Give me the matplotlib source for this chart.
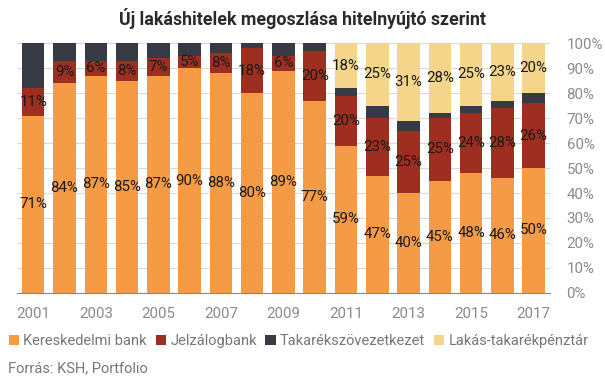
import matplotlib.pyplot as plt
import numpy as np

plt.rcParams['font.family'] = ['Roboto', 'DejaVu Sans']

years = list(range(2001, 2018))
kereskedelmi = [71, 84, 87, 85, 87, 90, 88, 80, 89, 77, 59, 47, 40, 45, 48, 46, 50]
jelzalog = [11, 9, 6, 8, 7, 5, 8, 18, 6, 20, 20, 23, 25, 25, 24, 28, 26]
takarekszov = [18, 7, 7, 7, 6, 5, 4, 2, 5, 3, 3, 5, 4, 2, 3, 3, 4]
lakastakarek = [0, 0, 0, 0, 0, 0, 0, 0, 0, 0, 18, 25, 31, 28, 25, 23, 20]

series = [
    ("Kereskedelmi bank", kereskedelmi, "#F59B45", True),
    ("Jelzálogbank", jelzalog, "#9E2F20", True),
    ("Takarékszövezetkezet", takarekszov, "#363A45", False),
    ("Lakás-takarékpénztár", lakastakarek, "#F5D58A", True),
]

fig = plt.figure(figsize=(6.05, 3.78), dpi=100)
ax = fig.add_axes([0.028, 0.225, 0.881, 0.661])

x = np.arange(len(years))
bottom = np.zeros(len(years))
for name, vals, color, labelled in series:
    vals = np.array(vals, dtype=float)
    ax.bar(x, vals, 0.72, bottom=bottom, color=color, label=name, zorder=2)
    if labelled:
        for xi, b, v in zip(x, bottom, vals):
            if v > 0:
                ax.text(xi, b + v / 2, f"{int(v)}%", ha="center", va="center",
                        fontsize=10.8, color="#1a1a1a", zorder=3)
    bottom += vals

ax.set_xlim(-0.52, len(years) - 0.48)
ax.set_ylim(0, 100)
ax.yaxis.tick_right()
ax.set_yticks(range(0, 101, 10))
ax.set_yticklabels([f"{v}%" for v in range(0, 101, 10)])
ax.set_xticks(x[::2])
ax.set_xticklabels([str(y) for y in years[::2]])
ax.tick_params(axis="both", length=0, labelsize=10.8, colors="#8a8a8a")
ax.tick_params(axis="x", pad=10)
ax.tick_params(axis="y", pad=12)
ax.grid(axis="y", color="#d9d9d9", linewidth=0.8, zorder=0)
for s in ["top", "left", "right"]:
    ax.spines[s].set_visible(False)
ax.spines["bottom"].set_color("#888888")

fig.suptitle("Új lakáshitelek megoszlása hitelnyújtó szerint", x=0.5, y=0.978,
             fontsize=12.8, fontweight="bold", color="#2a2a2a")

fig.legend(loc="lower left", bbox_to_anchor=(0.0, 0.055), ncol=4, frameon=False,
           fontsize=10.5, handlelength=0.7, handleheight=0.7, handletextpad=0.3,
           columnspacing=0.6, labelcolor="#777777", borderaxespad=0.2)

fig.text(0.013, 0.015, "Forrás: KSH, Portfolio", fontsize=10.5, color="#777777")

fig.savefig("out.png", dpi=100)
